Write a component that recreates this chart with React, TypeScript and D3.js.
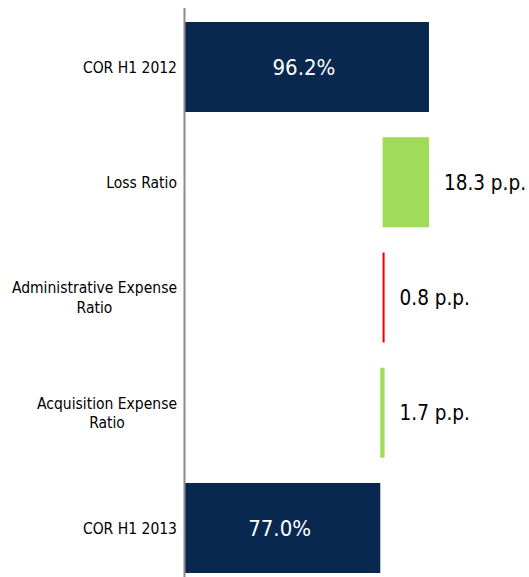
import React from "react";
import * as d3 from "d3";

const categories = [
  "COR H1 2012",
  "Loss Ratio",
  "Administrative Expense Ratio",
  "Acquisition Expense Ratio",
  "COR H1 2013",
];
const labelLines = [
  ["COR H1 2012"],
  ["Loss Ratio"],
  ["Administrative Expense", "Ratio"],
  ["Acquisition Expense", "Ratio"],
  ["COR H1 2013"],
];
// type: total | change (signed change in p.p.)
const kinds = ["total", "change", "change", "change", "total"];
const values = [96.2, -18.3, 0.8, -1.7, 77.0];
const valueLabels = ["96.2%", "18.3 p.p.", "0.8 p.p.", "1.7 p.p.", "77.0%"];

const W = 529;
const H = 577;
const NAVY = "#08284f";
const GREEN = "#a0dc5a";
const RED = "#ee0000";
const FONT = "'DejaVu Sans Condensed', 'DejaVu Sans', sans-serif";
const CAT_SIZE = 15.5;

function measure(text: string, size: number): number {
  if (typeof document === "undefined") return text.length * size * 0.5;
  const c = document.createElement("canvas");
  const ctx = c.getContext("2d");
  if (!ctx) return text.length * size * 0.5;
  ctx.font = `${size}px ${FONT}`;
  return ctx.measureText(text).width;
}

export default function App() {
  const x = d3.scaleLinear().domain([0, 100]).range([185, 438.6]);
  const y = d3
    .scaleBand<string>()
    .domain(categories)
    .range([22, 573])
    .paddingInner(0.219)
    .paddingOuter(0);

  let running = 0;
  const segs = categories.map((c, i) => {
    let a: number, b: number;
    if (kinds[i] === "total") {
      a = 0;
      b = values[i];
      running = values[i];
    } else {
      a = running;
      b = running + values[i];
      running = b;
    }
    const lo = Math.min(a, b);
    const hi = Math.max(a, b);
    const color = kinds[i] === "total" ? NAVY : values[i] < 0 ? GREEN : RED;
    return { c, i, lo, hi, color };
  });

  const labelRight = 177;

  return (
    <svg
      width={W}
      height={H}
      style={{ position: "absolute", left: 0, top: 0, background: "#fff" }}
    >
      {segs.map((s) => {
        const yy = y(s.c)!;
        const bh = y.bandwidth();
        const x0 = x(s.lo);
        const x1 = x(s.hi);
        const isTotal = kinds[s.i] === "total";
        const lines = labelLines[s.i];
        const cy = yy + bh / 2;
        const blockW = Math.max(...lines.map((l) => measure(l, CAT_SIZE)));
        const cx = labelRight - blockW / 2;
        return (
          <g key={s.c}>
            <rect x={x0} y={yy} width={Math.max(x1 - x0, 1)} height={bh} fill={s.color} />
            {isTotal ? (
              <text
                x={(x0 + x1) / 2 - 3}
                y={cy}
                dy="0.36em"
                textAnchor="middle"
                fill="#fff"
                fontFamily={FONT}
                fontSize={22}
              >
                {valueLabels[s.i]}
              </text>
            ) : (
              <text
                x={x1 + 15}
                y={cy}
                dy="0.36em"
                textAnchor="start"
                fill="#000"
                fontFamily={FONT}
                fontSize={20.5}
              >
                {valueLabels[s.i]}
              </text>
            )}
            <text fontFamily={FONT} fontSize={CAT_SIZE} fill="#000" textAnchor="middle">
              {lines.map((ln, k) => (
                <tspan
                  key={k}
                  x={cx}
                  y={cy + (k - (lines.length - 1) / 2) * 19.5}
                  dy="0.36em"
                >
                  {ln}
                </tspan>
              ))}
            </text>
          </g>
        );
      })}
      <line x1={184.5} x2={184.5} y1={8} y2={H} stroke="#8c8c8c" strokeWidth={2} />
    </svg>
  );
}
